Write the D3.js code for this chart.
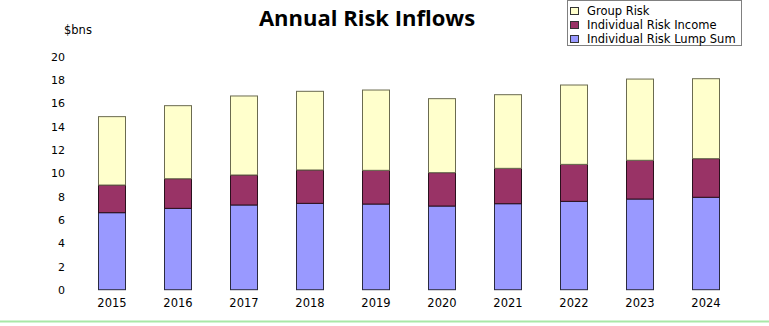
<!DOCTYPE html>
<html>
<head>
<meta charset="utf-8">
<script src="https://cdn.jsdelivr.net/npm/d3@7"></script>
<style>
  html, body { margin: 0; padding: 0; background: #fff; }
  svg { display: block; }
  text { font-family: "DejaVu Sans", Verdana, sans-serif; fill: #000; }
  .title { font-family: "Open Sans", sans-serif; font-weight: 700; }
</style>
</head>
<body>
<svg id="chart" width="769" height="326"></svg>
<script>
// Annual risk inflows, $bns
const years = ["2015", "2016", "2017", "2018", "2019", "2020", "2021", "2022", "2023", "2024"];
const lumpSum = [6.6, 6.97, 7.26, 7.4, 7.34, 7.17, 7.37, 7.57, 7.77, 7.92];
const income  = [2.37, 2.54, 2.57, 2.86, 2.89, 2.86, 3.03, 3.17, 3.32, 3.31];
const group   = [5.86, 6.26, 6.77, 6.74, 6.88, 6.34, 6.31, 6.8, 6.96, 6.85];
const yTicks = [0, 2, 4, 6, 8, 10, 12, 14, 16, 18, 20];

const seriesNames = ["Individual Risk Lump Sum", "Individual Risk Income", "Group Risk"];
const seriesFill = { "Individual Risk Lump Sum": "#9999ff", "Individual Risk Income": "#993366", "Group Risk": "#ffffcc" };
const seriesStroke = { "Individual Risk Lump Sum": "#2a2a40", "Individual Risk Income": "#2a0f1c", "Group Risk": "#6b6b50" };

const rows = years.map((y, i) => ({
  year: y,
  "Individual Risk Lump Sum": lumpSum[i],
  "Individual Risk Income": income[i],
  "Group Risk": group[i]
}));

const svg = d3.select("#chart");

const x = d3.scaleBand().domain(years).range([79, 739]).paddingInner(0.59).paddingOuter(0.295);
const y = d3.scaleLinear().domain([0, 20]).range([289.7, 56.3]);

const stack = d3.stack().keys(seriesNames)(rows);

// stacked bars
svg.append("g").selectAll("g")
  .data(stack)
  .join("g")
  .attr("fill", d => seriesFill[d.key])
  .attr("stroke", d => seriesStroke[d.key])
  .attr("stroke-width", 1)
  .selectAll("rect")
  .data(d => d)
  .join("rect")
  .attr("x", d => Math.round(x(d.data.year)) + 0.5)
  .attr("y", d => y(d[1]))
  .attr("width", Math.round(x.bandwidth()))
  .attr("height", d => y(d[0]) - y(d[1]));

// y axis labels (no axis line)
const yAxis = d3.axisLeft(y).tickValues(yTicks).tickSize(0).tickPadding(0);
const gy = svg.append("g").attr("transform", "translate(65,0)").call(yAxis);
gy.select(".domain").remove();
gy.selectAll("text").attr("font-family", "DejaVu Sans, sans-serif").attr("font-size", 11).attr("fill", "#000").attr("dy", "0.35em");

// x axis labels
const xAxis = d3.axisBottom(x).tickSize(0).tickPadding(0);
const gx = svg.append("g").attr("transform", "translate(0,299)").call(xAxis);
gx.select(".domain").remove();
gx.selectAll("text").attr("font-family", "DejaVu Sans, sans-serif").attr("font-size", 11.5).attr("fill", "#000").attr("dy", "0.71em");

// unit label
svg.append("text").attr("x", 64).attr("y", 34).attr("font-size", 11.5).text("$bns");

// title
svg.append("text")
  .attr("class", "title")
  .attr("x", 367).attr("y", 26)
  .attr("text-anchor", "middle")
  .attr("font-size", 22)
  .text("Annual Risk Inflows");

// legend
const legend = svg.append("g");
legend.append("rect").attr("x", 567.5).attr("y", 0.5).attr("width", 174).attr("height", 45)
  .attr("fill", "#fff").attr("stroke", "#808080");
const legendOrder = ["Group Risk", "Individual Risk Income", "Individual Risk Lump Sum"];
legendOrder.forEach((name, i) => {
  const cy = 11 + i * 14;
  legend.append("rect").attr("x", 570.5).attr("y", cy - 3.5).attr("width", 8).attr("height", 7)
    .attr("fill", seriesFill[name]).attr("stroke", "#333");
  legend.append("text").attr("x", 587).attr("y", cy).attr("dy", "0.35em")
    .attr("font-size", 11.5).text(name);
});

// bottom rule
svg.append("line").attr("x1", 0).attr("x2", 769).attr("y1", 321.5).attr("y2", 321.5)
  .attr("stroke", "#a8e8a8").attr("stroke-width", 2);
</script>
</body>
</html>
